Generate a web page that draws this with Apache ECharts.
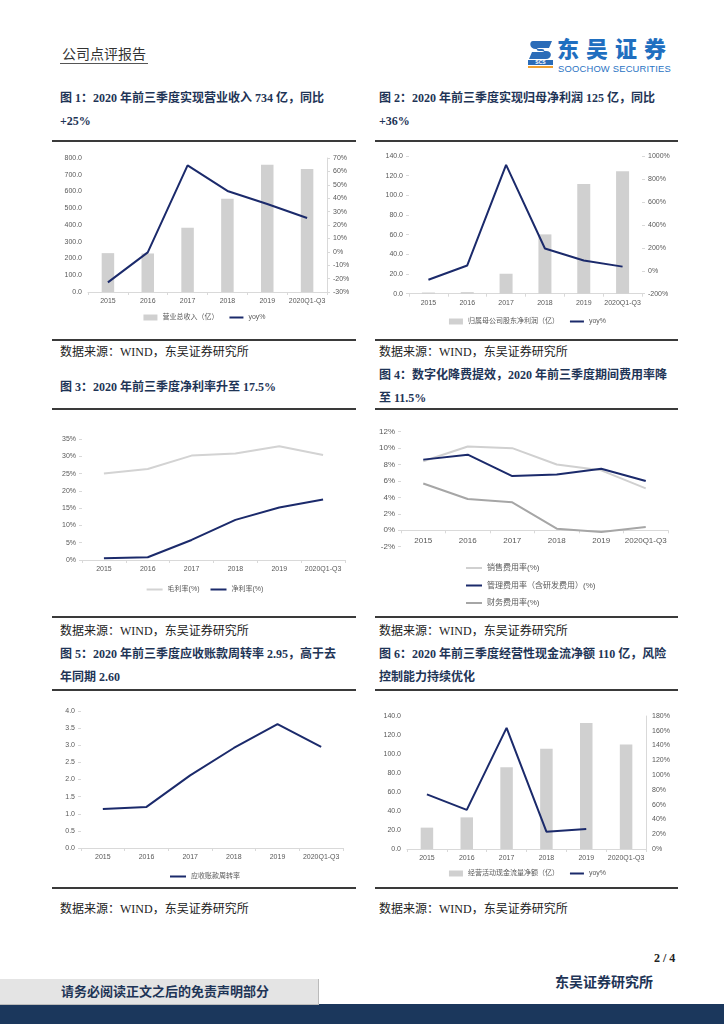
<!DOCTYPE html>
<html><head><meta charset="utf-8">
<script src="https://cdn.jsdelivr.net/npm/echarts@6/dist/echarts.min.js"></script>
<style>
body{margin:0;width:724px;height:1024px;position:relative;background:#fff;overflow:hidden;font-family:'Liberation Serif','Noto Sans CJK SC',serif;}
.abs{position:absolute;}
.title{position:absolute;font-size:12px;font-weight:bold;color:#1e3456;line-height:23px;white-space:nowrap;}
.src{position:absolute;font-size:12px;color:#222;line-height:16px;white-space:nowrap;}
.rule{position:absolute;height:2px;background:#3a3a3a;}
.chart{position:absolute;}
</style></head><body>

<div class="abs" style="left:62px;top:45px;font-size:14px;color:#333;line-height:20px;">公司点评报告</div>
<div class="abs" style="left:60px;top:63px;width:88px;height:1px;background:#555;"></div>

<svg class="abs" style="left:527px;top:40px" width="28" height="30" viewBox="0 0 28 30">
  <path d="M6 1 H25 L22 8 H12 C9 8 9 11 12 11 H19 C26 11 25 19 19 19 H2 L5 12 H15 C18 12 18 9 15 9 H9 C2 9 2 1 6 1 Z" fill="#2b6cb8"/>
  <rect x="1" y="20" width="25" height="5" fill="#2b6cb8"/>
  <text x="13.5" y="24.3" font-size="5" fill="#fff" text-anchor="middle" font-family="Liberation Sans" font-weight="bold">SCS</text>
  <rect x="1" y="26" width="25" height="2" fill="#f0a030"/>
</svg>
<div class="abs" style="left:557px;top:33px;font-size:22px;font-weight:900;color:#1f6fc0;letter-spacing:7px;line-height:28px;font-family:'Noto Sans CJK SC',sans-serif;">东吴证券</div>
<div class="abs" style="left:558px;top:63px;font-size:9.4px;color:#2a73c3;line-height:11px;font-family:'Liberation Sans',sans-serif;letter-spacing:0.2px;">SOOCHOW SECURITIES</div>

<!-- Row 1 -->
<div class="title" style="left:60px;top:86.5px;">图 1：2020 年前三季度实现营业收入 734 亿，同比<br>+25%</div>
<div class="title" style="left:379px;top:86.5px;">图 2：2020 年前三季度实现归母净利润 125 亿，同比<br>+36%</div>
<div class="rule" style="left:52px;top:140px;width:304px;"></div>
<div class="rule" style="left:375px;top:140px;width:303px;"></div>
<div id="c1" class="chart" style="left:52px;top:143px;width:305px;height:195px;"></div>
<div id="c2" class="chart" style="left:375px;top:143px;width:305px;height:195px;"></div>
<div class="rule" style="left:52px;top:339px;width:304px;"></div>
<div class="rule" style="left:375px;top:339px;width:303px;"></div>
<div class="src" style="left:60px;top:344px;">数据来源：WIND，东吴证券研究所</div>
<div class="src" style="left:379px;top:344px;">数据来源：WIND，东吴证券研究所</div>

<!-- Row 2 -->
<div class="title" style="left:60px;top:375.5px;">图 3：2020 年前三季度净利率升至 17.5%</div>
<div class="title" style="left:379px;top:363.5px;">图 4：数字化降费提效，2020 年前三季度期间费用率降<br>至 11.5%</div>
<div class="rule" style="left:52px;top:408px;width:304px;"></div>
<div class="rule" style="left:375px;top:408px;width:303px;"></div>
<div id="c3" class="chart" style="left:52px;top:411px;width:305px;height:204px;"></div>
<div id="c4" class="chart" style="left:375px;top:411px;width:305px;height:204px;"></div>
<div class="rule" style="left:52px;top:616px;width:304px;"></div>
<div class="rule" style="left:375px;top:616px;width:303px;"></div>
<div class="src" style="left:60px;top:623px;">数据来源：WIND，东吴证券研究所</div>
<div class="src" style="left:379px;top:623px;">数据来源：WIND，东吴证券研究所</div>

<!-- Row 3 -->
<div class="title" style="left:60px;top:642.5px;">图 5：2020 年前三季度应收账款周转率 2.95，高于去<br>年同期 2.60</div>
<div class="title" style="left:379px;top:642.5px;">图 6：2020 年前三季度经营性现金流净额 110 亿，风险<br>控制能力持续优化</div>
<div class="rule" style="left:52px;top:689px;width:304px;"></div>
<div class="rule" style="left:375px;top:689px;width:303px;"></div>
<div id="c5" class="chart" style="left:52px;top:692px;width:305px;height:194px;"></div>
<div id="c6" class="chart" style="left:375px;top:692px;width:305px;height:194px;"></div>
<div class="rule" style="left:52px;top:887px;width:304px;"></div>
<div class="rule" style="left:375px;top:887px;width:303px;"></div>
<div class="src" style="left:60px;top:901px;">数据来源：WIND，东吴证券研究所</div>
<div class="src" style="left:379px;top:901px;">数据来源：WIND，东吴证券研究所</div>

<!-- Footer -->
<div class="abs" style="left:654px;top:950px;font-size:12px;font-weight:bold;color:#222;line-height:16px;">2 / 4</div>
<div class="abs" style="left:0;top:1004px;width:724px;height:20px;background:#1b375c;"></div>
<div class="abs" style="left:0;top:979px;width:318px;height:25px;background:#e4e4e4;border-right:1px solid #bbb;border-bottom:1px solid #bbb;"></div>
<div class="abs" style="left:0;top:979px;width:330px;height:25px;line-height:25px;text-align:center;font-size:13px;font-weight:bold;color:#1e3456;">请务必阅读正文之后的免责声明部分</div>
<div class="abs" style="left:555px;top:973px;font-size:14px;font-weight:bold;color:#1e3456;line-height:20px;">东吴证券研究所</div>

<script>
// ---- data ----
const cats = ['2015','2016','2017','2018','2019','2020Q1-Q3'];
const revenue = [232, 230, 384, 557, 760, 734];
const revenueYoy = [-22.8, -0.4, 64.5, 45.4, 35.7, 25.2];
const netProfit = [1.2, 1.6, 20.3, 60.3, 111.5, 124.6];
const netProfitYoy = [-78, 46, 922, 194, 90, 36];
const grossMargin = [25.0, 26.3, 30.2, 30.8, 32.9, 30.4];
const netMargin = [0.5, 0.8, 5.8, 11.6, 15.2, 17.5];
const salesRate = [8.4, 10.2, 10.0, 8.0, 7.3, 5.1];
const mgmtRate = [8.6, 9.2, 6.6, 6.8, 7.5, 6.0];
const finRate = [5.7, 3.8, 3.4, 0.2, -0.2, 0.4];
const arTurnover = [1.14, 1.20, 2.12, 2.92, 3.62, 2.95];
const opCashFlow = [22.5, 33.3, 86.0, 105.6, 132.6, 110.0];
const opCashFlowYoy = [74, 53, 164, 23.5, 27, null];

const NAVY = '#1b2a6b', BARGRAY = '#d0d0d0', LBL = '#595959', AX = '#d9d9d9';
const FF = "'Liberation Sans','Noto Sans CJK SC',sans-serif";

function xAx(fs, extra){
  return Object.assign({type:'category', data:cats, boundaryGap:true,
    axisLine:{onZero:false, lineStyle:{color:AX,width:1}},
    axisTick:{show:true,length:3,lineStyle:{color:AX}},
    axisLabel:{color:LBL,fontSize:fs||7,margin:6,interval:0,fontFamily:FF}}, extra||{});
}
function yAx(o){
  return Object.assign({type:'value', splitLine:{show:false},
    axisLine:{show:false}, axisTick:{show:true,length:3,lineStyle:{color:AX}},
    axisLabel:{color:LBL,fontSize:7,margin:6,fontFamily:FF}}, o);
}
function mk(id, opt){
  const c = echarts.init(document.getElementById(id), null, {renderer:'canvas'});
  opt.animation = false;
  opt.textStyle = {fontFamily:FF};
  c.setOption(opt);
}
const lineS = (name, data, color, yi) => ({type:'line', name, data, yAxisIndex:yi||0,
  symbol:'none', lineStyle:{color, width:2}, itemStyle:{color}, connectNulls:false});
const barS = (name, data, w) => ({type:'bar', name, data, barWidth:w||13, itemStyle:{color:BARGRAY}});
const leg = (top, o) => Object.assign({top, left:'center', itemWidth:14, itemHeight:6, itemGap:10,
  textStyle:{color:LBL,fontSize:7,fontFamily:FF}}, o||{});
// legend entry for a line series: hide the default circle marker, keep the line
const LI = name => ({name, itemStyle:{opacity:0}});
const BI = name => ({name, icon:'rect'});
const pct = v => v + '%';

// Chart 1
mk('c1', {
  grid:{left:36, width:239, top:15, height:134},
  legend: leg(166, {data:[BI('营业总收入（亿）'), LI('yoy%')]}),
  xAxis: xAx(),
  yAxis: [yAx({min:0,max:800,interval:100,axisTick:{show:false},axisLabel:{color:LBL,fontSize:7,margin:6,formatter:v=>v.toFixed(1)}}),
          yAx({min:-30,max:70,interval:10,position:'right',axisLine:{show:true,lineStyle:{color:AX}},axisLabel:{color:LBL,fontSize:7,margin:6,formatter:pct}})],
  series:[barS('营业总收入（亿）', revenue, 12.5), lineS('yoy%', revenueYoy, NAVY, 1)]
});

// Chart 2
mk('c2', {
  grid:{left:34, width:233, top:13, height:137.7},
  legend: leg(170, {data:[BI('归属母公司股东净利润（亿）'), LI('yoy%')]}),
  xAxis: xAx(),
  yAxis: [yAx({min:0,max:140,interval:20,axisLabel:{color:LBL,fontSize:7,margin:6,formatter:v=>v.toFixed(1)}}),
          yAx({min:-200,max:1000,interval:200,position:'right',axisLabel:{color:LBL,fontSize:7,margin:6,formatter:pct}})],
  series:[barS('归属母公司股东净利润（亿）', netProfit, 13), lineS('yoy%', netProfitYoy, NAVY, 1)]
});

// Chart 3
mk('c3', {
  grid:{left:30, width:263, top:28, height:121},
  legend: leg(170, {itemWidth:16, data:[LI('毛利率(%)'), LI('净利率(%)')]}),
  xAxis: xAx(),
  yAxis: [yAx({min:0,max:35,interval:5,axisLabel:{color:LBL,fontSize:7,margin:6,formatter:pct}})],
  series:[lineS('毛利率(%)', grossMargin, '#d3d3d3'), lineS('净利率(%)', netMargin, NAVY)]
});

// Chart 4 (category axis drawn at the 0% line)
mk('c4', {
  grid:{left:26, width:267, top:20.7, height:115},
  legend: {orient:'vertical', left:85, top:148, itemWidth:16, itemHeight:7, itemGap:9.5,
    textStyle:{color:LBL,fontSize:8,fontFamily:FF},
    data:[LI('销售费用率(%)'), LI('管理费用率（含研发费用）(%)'), LI('财务费用率(%)')]},
  xAxis: xAx(8, {offset:-16.4}),
  yAxis: [yAx({min:-2,max:12,interval:2,axisLabel:{color:LBL,fontSize:8,margin:6,formatter:pct}})],
  series:[lineS('销售费用率(%)', salesRate, '#d0d0d0'),
          lineS('管理费用率（含研发费用）(%)', mgmtRate, NAVY),
          lineS('财务费用率(%)', finRate, '#a6a6a6')]
});

// Chart 5
mk('c5', {
  grid:{left:29, width:262, top:19, height:137},
  legend: leg(176, {itemWidth:16, data:[LI('应收账款周转率')]}),
  xAxis: xAx(),
  yAxis: [yAx({min:0,max:4,interval:0.5,axisLabel:{color:LBL,fontSize:7,margin:6,formatter:v=>v.toFixed(1)}})],
  series:[lineS('应收账款周转率', arTurnover, NAVY)]
});

// Chart 6
mk('c6', {
  grid:{left:32, width:239, top:24, height:133},
  legend: leg(173, {data:[BI('经营活动现金流量净额（亿）'), LI('yoy%')]}),
  xAxis: xAx(),
  yAxis: [yAx({min:0,max:140,interval:20,axisTick:{show:false},axisLabel:{color:LBL,fontSize:7,margin:6,formatter:v=>v.toFixed(1)}}),
          yAx({min:0,max:180,interval:20,position:'right',axisLine:{show:true,lineStyle:{color:AX}},axisTick:{show:false},axisLabel:{color:LBL,fontSize:7,margin:6,formatter:pct}})],
  series:[barS('经营活动现金流量净额（亿）', opCashFlow, 12.5), lineS('yoy%', opCashFlowYoy, NAVY, 1)]
});
</script>
</body></html>
